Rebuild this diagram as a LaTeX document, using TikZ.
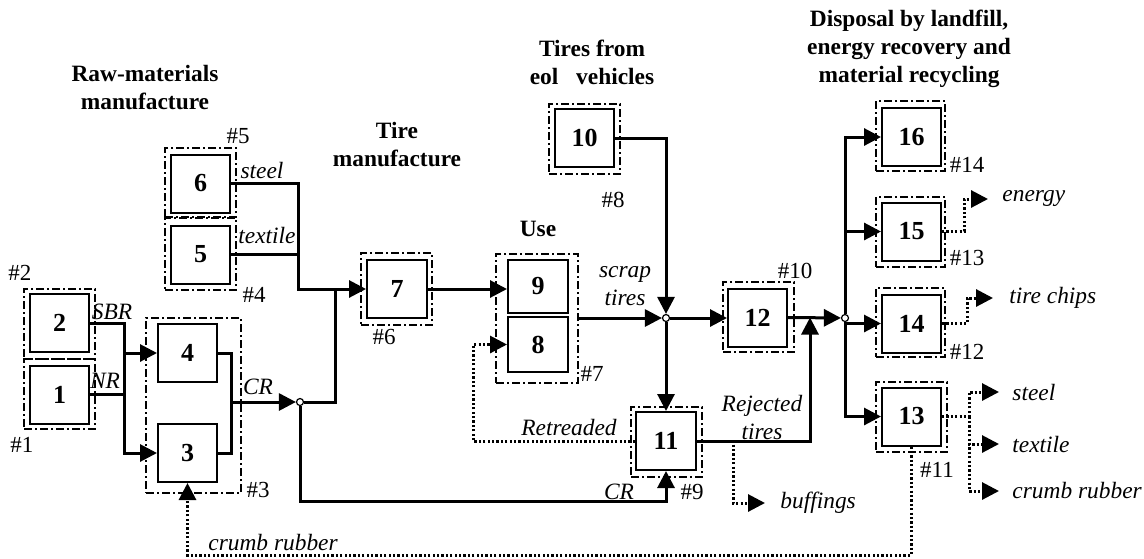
\documentclass[tikz,border=0pt]{standalone}
\usepackage{fontspec}
\setmainfont{Liberation Serif}
\usetikzlibrary{arrows.meta,fit,calc}
\begin{document}
\begin{tikzpicture}[x=0.5pt,y=-0.5pt,
  every node/.style={font=\fontsize{11.5}{14}\selectfont},
  box/.style={draw,line width=1pt,minimum width=29.5pt,minimum height=29pt,inner sep=0pt,font=\fontsize{13}{14}\selectfont\bfseries},
  grp/.style={draw,line width=1.25pt,dash pattern=on 4pt off 1.5pt on 1pt off 1.5pt,inner sep=0pt},
  ln/.style={line width=1.5pt},
  flow/.style={ln,-{Triangle[length=8.5pt,width=8.5pt]}},
  dotln/.style={line width=1.5pt,dash pattern=on 1.1pt off 1.1pt},
  dotflow/.style={dotln,-{Triangle[length=8.5pt,width=8.5pt]}},
  jn/.style={circle,draw,fill=white,line width=0.6pt,inner sep=0pt,minimum size=3.5pt},
  lab/.style={font=\fontsize{11.7}{14}\selectfont\itshape,inner sep=0pt,align=center},
  num/.style={inner sep=0pt},
  head/.style={font=\fontsize{11.7}{14}\selectfont\bfseries,align=center,inner sep=0pt}
]
\useasboundingbox (0,0) rectangle (1144,558);

% headers
\node[head] (h1) at (145,88) {Raw-materials\\manufacture};
\node[head] (h2) at (397,145) {Tire\\manufacture};
\node[head] (h3) at (538,229) {Use};
\node[head] (h4) at (592,62) {Tires from\\eol\hspace{6pt} vehicles};
\node[head] (h5) at (909,49) {Disposal by landfill,\\energy recovery and\\material recycling};

% boxes
\node[box] (b2) at (59.5,323) {2};
\node[box] (b1) at (59.5,394.5) {1};
\node[box] (b4) at (187.5,353) {4};
\node[box] (b3) at (187.5,453) {3};
\node[box] (b6) at (200.5,183.5) {6};
\node[box] (b5) at (200.5,254.5) {5};
\node[box,minimum width=30pt] (b7) at (397,289) {7};
\node[box,minimum width=30pt,minimum height=26.5pt] (b9) at (538,286.5) {9};
\node[box,minimum width=30pt,minimum height=27.5pt] (b8) at (538,344.5) {8};
\node[box] (b10) at (584.5,138) {10};
\node[box,minimum width=30pt] (b11) at (666,441) {11};
\node[box] (b12) at (757.5,317.5) {12};
\node[box] (b16) at (911.5,137) {16};
\node[box] (b15) at (911.5,231.5) {15};
\node[box] (b14) at (911.5,323.5) {14};
\node[box] (b13) at (911.5,416.5) {13};

% groups
\node[grp,fit={(24,289) (95,359)}] (g2) {};
\node[grp,fit={(24,359) (95,429)}] (g1) {};
\node[grp,fit={(146,318) (241,493)}] (g3) {};
\node[grp,fit={(165,148) (236,217)}] (g5) {};
\node[grp,fit={(165,218) (236,290)}] (g4) {};
\node[grp,fit={(361,253) (432,325)}] (g6) {};
\node[grp,fit={(496,254) (578,383)}] (g7) {};
\node[grp,fit={(549,104) (620,174)}] (g8) {};
\node[grp,fit={(631,407) (702,477)}] (g9) {};
\node[grp,fit={(723,282) (794,352)}] (g10) {};
\node[grp,fit={(876,101) (945,171)}] (g14) {};
\node[grp,fit={(876,197) (945,267)}] (g13) {};
\node[grp,fit={(876,288) (945,357)}] (g12) {};
\node[grp,fit={(876,382) (947,452)}] (g11) {};

% group numbers
\node[num] (n2) at (20,273) {\#2};
\node[num] (n1) at (22,445) {\#1};
\node[num] (n3) at (258,490) {\#3};
\node[num] (n5) at (238,136) {\#5};
\node[num] (n4) at (254,295) {\#4};
\node[num] (n6) at (384,337) {\#6};
\node[num] (n7) at (592,374) {\#7};
\node[num] (n8) at (613,200) {\#8};
\node[num] (n9) at (692,492) {\#9};
\node[num] (n10) at (795,271) {\#10};
\node[num] (n14) at (967,165) {\#14};
\node[num] (n13) at (967,258) {\#13};
\node[num] (n12) at (967,352) {\#12};
\node[num] (n11) at (937,470) {\#11};

% junctions
\node[jn] (j1) at (300,402) {};
\node[jn] (j2) at (666,318) {};
\node[jn] (j3) at (845,318) {};

% helper coordinates
\coordinate (v1) at (124,0);
\coordinate (v2) at (231,0);
\coordinate (v3) at (298,0);
\coordinate (m7) at (335,289);
\coordinate (r1) at (300,501);
\coordinate (v4) at (473,0);
\coordinate (v5) at (810,0);
\coordinate (v6) at (733,0);
\coordinate (v7) at (964,0);
\coordinate (v8) at (967,0);
\coordinate (v9) at (969,0);
\coordinate (bt) at (0,555);

% output labels
\node[lab,anchor=west] (bf) at (780,503) {buffings};
\node[lab,anchor=west] (en) at (1002,199) {energy};
\node[lab,anchor=west] (tc) at (1009,298) {tire chips};
\node[lab,anchor=west] (st) at (1012,392) {steel};
\node[lab,anchor=west] (tx) at (1012,444) {textile};
\node[lab,anchor=west] (cr) at (1012,491) {crumb rubber};

% flow labels
\node[lab] (lsbr) at (112,312) {SBR};
\node[lab] (lnr) at (105,381) {NR};
\node[lab] (lcr1) at (258,387) {CR};
\node[lab] (lst) at (262,170) {steel};
\node[lab] (ltx) at (267,235) {textile};
\node[lab] (lret) at (569,427) {Retreaded};
\node[lab] (lscr) at (625,286) {scrap\\tires};
\node[lab] (lrej) at (762,417) {Rejected\\tires};
\node[lab] (lcr2) at (619,492) {CR};
\node[lab,anchor=west] (lcrb) at (208,543) {crumb rubber};

% raw materials
\draw[flow] (b2.east) -| (v1 |- b3.west) -- (b3.west);
\draw[flow] (v1 |- b4.west) -- (b4.west);
\draw[ln] (b1.east) -- (b1.east -| v1);
\draw[ln] (b4.east) -| (v2 |- b3.east) -- (b3.east);
\draw[flow] (v2 |- j1) -- (j1);
\draw[ln] (j1) -| (m7);
\draw[flow] (j1) -- (r1) -| (b11.south);

% steel / textile
\draw[flow] (b6.east) -| (v3 |- b7.west) -- (b7.west);
\draw[ln] (b5.east) -- (b5.east -| v3);

% tire manufacture to use
\draw[flow] (b7.east) -- (b7.east -| b9.west);

% retreaded
\draw[dotflow] (b11.west) -| (v4 |- b8.west) -- (b8.west);

% scrap tires
\draw[flow] (g7.east |- j2) -- (j2);
\draw[flow] (b10.east) -| (j2);
\draw[flow] (j2) -- (j2 -| b12.west);
\draw[flow] (j2) -- (b11.north);

% rejected tires
\draw[flow] (b11.east) -| (v5 |- b12.east);
\draw[dotflow] (b11.east) -| (v6 |- bf.west) -- ([xshift=-7.5pt]bf.west);

% disposal
\draw[flow] (b12.east) -- (j3);
\draw[flow] (j3) |- (b16.west);
\draw[flow] (j3) |- (b15.west);
\draw[flow] (j3) |- (b14.west);
\draw[flow] (j3) |- (b13.west);

% outputs
\draw[dotflow] (b15.east) -| (v7 |- en.west) -- ([xshift=-7pt]en.west);
\draw[dotflow] (b14.east) -| (v8 |- tc.west) -- ([xshift=-8pt]tc.west);
\draw[dotflow] (b13.east) -| (v9 |- st.west) -- ([xshift=-6.5pt]st.west);
\draw[dotflow] (v9 |- b13.east) |- ([xshift=-6.5pt]tx.west);
\draw[dotflow] (v9 |- b13.east) |- ([xshift=-6.5pt]cr.west);

% crumb rubber recycle
\draw[dotflow] (b13.south) -- (b13.south |- bt) -| (b3.south);
\end{tikzpicture}
\end{document}
